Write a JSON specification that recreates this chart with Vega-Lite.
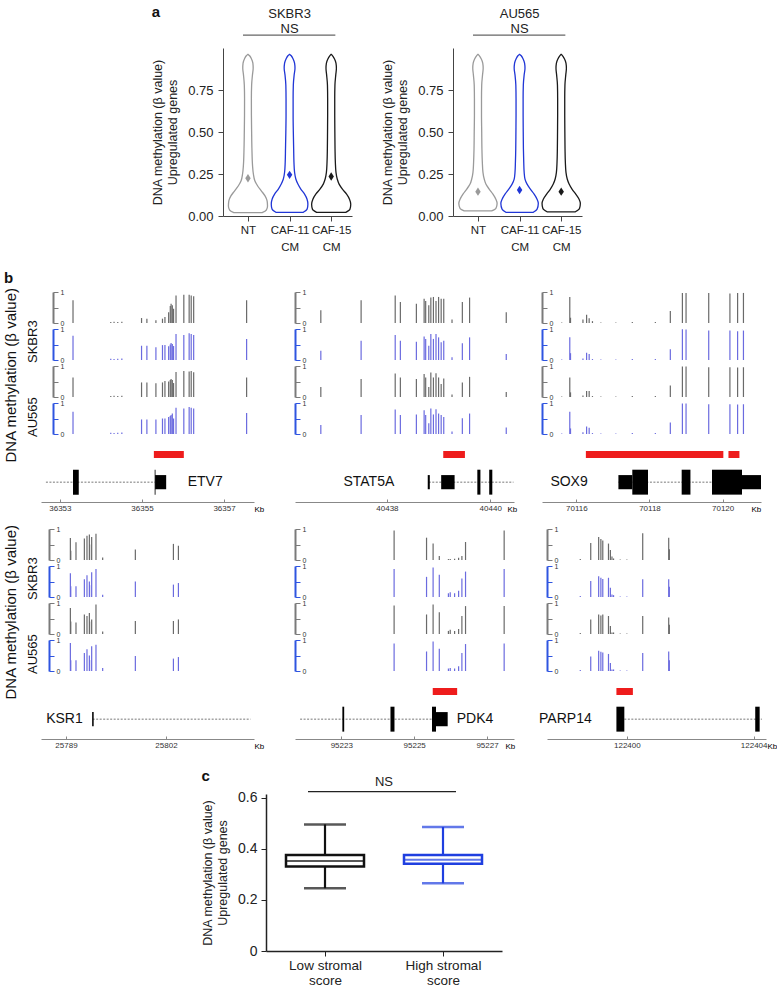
{
"$schema":"https://vega.github.io/schema/vega-lite/v6.json",
"padding":{"left":3,"top":5,"right":0,"bottom":0},
"config":{"view":{"stroke":null},"font":"Liberation Sans","axis":{"labelFont":"Liberation Sans","titleFont":"Liberation Sans"},"title":{"font":"Liberation Sans","color":"#111111"}},
"datasets":{
"violin":[
{"c":"SKBR3","g":"NT","y":0.02,"w":0.34},{"c":"SKBR3","g":"NT","y":0.035,"w":0.44},{"c":"SKBR3","g":"NT","y":0.06,"w":0.47},{"c":"SKBR3","g":"NT","y":0.09,"w":0.46},{"c":"SKBR3","g":"NT","y":0.12,"w":0.41},{"c":"SKBR3","g":"NT","y":0.15,"w":0.32},{"c":"SKBR3","g":"NT","y":0.18,"w":0.23},{"c":"SKBR3","g":"NT","y":0.21,"w":0.165},{"c":"SKBR3","g":"NT","y":0.25,"w":0.13},{"c":"SKBR3","g":"NT","y":0.3,"w":0.11},{"c":"SKBR3","g":"NT","y":0.4,"w":0.095},{"c":"SKBR3","g":"NT","y":0.5,"w":0.088},{"c":"SKBR3","g":"NT","y":0.6,"w":0.083},{"c":"SKBR3","g":"NT","y":0.7,"w":0.082},{"c":"SKBR3","g":"NT","y":0.78,"w":0.088},{"c":"SKBR3","g":"NT","y":0.84,"w":0.108},{"c":"SKBR3","g":"NT","y":0.88,"w":0.125},{"c":"SKBR3","g":"NT","y":0.91,"w":0.118},{"c":"SKBR3","g":"NT","y":0.935,"w":0.085},{"c":"SKBR3","g":"NT","y":0.955,"w":0.035},{"c":"SKBR3","g":"NT","y":0.962,"w":0.005},
{"c":"SKBR3","g":"CAF-11 CM","y":0.022,"w":0.33},{"c":"SKBR3","g":"CAF-11 CM","y":0.04,"w":0.42},{"c":"SKBR3","g":"CAF-11 CM","y":0.07,"w":0.44},{"c":"SKBR3","g":"CAF-11 CM","y":0.1,"w":0.42},{"c":"SKBR3","g":"CAF-11 CM","y":0.13,"w":0.36},{"c":"SKBR3","g":"CAF-11 CM","y":0.16,"w":0.27},{"c":"SKBR3","g":"CAF-11 CM","y":0.19,"w":0.2},{"c":"SKBR3","g":"CAF-11 CM","y":0.22,"w":0.15},{"c":"SKBR3","g":"CAF-11 CM","y":0.26,"w":0.12},{"c":"SKBR3","g":"CAF-11 CM","y":0.32,"w":0.105},{"c":"SKBR3","g":"CAF-11 CM","y":0.4,"w":0.098},{"c":"SKBR3","g":"CAF-11 CM","y":0.5,"w":0.09},{"c":"SKBR3","g":"CAF-11 CM","y":0.6,"w":0.085},{"c":"SKBR3","g":"CAF-11 CM","y":0.7,"w":0.085},{"c":"SKBR3","g":"CAF-11 CM","y":0.78,"w":0.09},{"c":"SKBR3","g":"CAF-11 CM","y":0.84,"w":0.11},{"c":"SKBR3","g":"CAF-11 CM","y":0.88,"w":0.13},{"c":"SKBR3","g":"CAF-11 CM","y":0.91,"w":0.12},{"c":"SKBR3","g":"CAF-11 CM","y":0.935,"w":0.085},{"c":"SKBR3","g":"CAF-11 CM","y":0.955,"w":0.035},{"c":"SKBR3","g":"CAF-11 CM","y":0.962,"w":0.005},
{"c":"SKBR3","g":"CAF-15 CM","y":0.022,"w":0.35},{"c":"SKBR3","g":"CAF-15 CM","y":0.04,"w":0.45},{"c":"SKBR3","g":"CAF-15 CM","y":0.07,"w":0.47},{"c":"SKBR3","g":"CAF-15 CM","y":0.1,"w":0.44},{"c":"SKBR3","g":"CAF-15 CM","y":0.13,"w":0.37},{"c":"SKBR3","g":"CAF-15 CM","y":0.16,"w":0.27},{"c":"SKBR3","g":"CAF-15 CM","y":0.19,"w":0.19},{"c":"SKBR3","g":"CAF-15 CM","y":0.22,"w":0.145},{"c":"SKBR3","g":"CAF-15 CM","y":0.26,"w":0.115},{"c":"SKBR3","g":"CAF-15 CM","y":0.32,"w":0.1},{"c":"SKBR3","g":"CAF-15 CM","y":0.4,"w":0.092},{"c":"SKBR3","g":"CAF-15 CM","y":0.5,"w":0.088},{"c":"SKBR3","g":"CAF-15 CM","y":0.6,"w":0.085},{"c":"SKBR3","g":"CAF-15 CM","y":0.7,"w":0.085},{"c":"SKBR3","g":"CAF-15 CM","y":0.78,"w":0.09},{"c":"SKBR3","g":"CAF-15 CM","y":0.84,"w":0.11},{"c":"SKBR3","g":"CAF-15 CM","y":0.88,"w":0.125},{"c":"SKBR3","g":"CAF-15 CM","y":0.91,"w":0.115},{"c":"SKBR3","g":"CAF-15 CM","y":0.935,"w":0.08},{"c":"SKBR3","g":"CAF-15 CM","y":0.955,"w":0.03},{"c":"SKBR3","g":"CAF-15 CM","y":0.962,"w":0.005},
{"c":"AU565","g":"NT","y":0.03,"w":0.33},{"c":"AU565","g":"NT","y":0.045,"w":0.43},{"c":"AU565","g":"NT","y":0.075,"w":0.46},{"c":"AU565","g":"NT","y":0.1,"w":0.43},{"c":"AU565","g":"NT","y":0.13,"w":0.36},{"c":"AU565","g":"NT","y":0.16,"w":0.27},{"c":"AU565","g":"NT","y":0.19,"w":0.19},{"c":"AU565","g":"NT","y":0.22,"w":0.15},{"c":"AU565","g":"NT","y":0.26,"w":0.12},{"c":"AU565","g":"NT","y":0.32,"w":0.105},{"c":"AU565","g":"NT","y":0.4,"w":0.095},{"c":"AU565","g":"NT","y":0.5,"w":0.09},{"c":"AU565","g":"NT","y":0.6,"w":0.085},{"c":"AU565","g":"NT","y":0.7,"w":0.085},{"c":"AU565","g":"NT","y":0.78,"w":0.09},{"c":"AU565","g":"NT","y":0.84,"w":0.11},{"c":"AU565","g":"NT","y":0.88,"w":0.125},{"c":"AU565","g":"NT","y":0.91,"w":0.115},{"c":"AU565","g":"NT","y":0.935,"w":0.08},{"c":"AU565","g":"NT","y":0.955,"w":0.03},{"c":"AU565","g":"NT","y":0.962,"w":0.005},
{"c":"AU565","g":"CAF-11 CM","y":0.022,"w":0.33},{"c":"AU565","g":"CAF-11 CM","y":0.04,"w":0.42},{"c":"AU565","g":"CAF-11 CM","y":0.075,"w":0.45},{"c":"AU565","g":"CAF-11 CM","y":0.1,"w":0.42},{"c":"AU565","g":"CAF-11 CM","y":0.13,"w":0.35},{"c":"AU565","g":"CAF-11 CM","y":0.16,"w":0.26},{"c":"AU565","g":"CAF-11 CM","y":0.19,"w":0.18},{"c":"AU565","g":"CAF-11 CM","y":0.22,"w":0.13},{"c":"AU565","g":"CAF-11 CM","y":0.26,"w":0.11},{"c":"AU565","g":"CAF-11 CM","y":0.32,"w":0.1},{"c":"AU565","g":"CAF-11 CM","y":0.4,"w":0.092},{"c":"AU565","g":"CAF-11 CM","y":0.5,"w":0.088},{"c":"AU565","g":"CAF-11 CM","y":0.6,"w":0.085},{"c":"AU565","g":"CAF-11 CM","y":0.7,"w":0.085},{"c":"AU565","g":"CAF-11 CM","y":0.78,"w":0.09},{"c":"AU565","g":"CAF-11 CM","y":0.84,"w":0.11},{"c":"AU565","g":"CAF-11 CM","y":0.88,"w":0.13},{"c":"AU565","g":"CAF-11 CM","y":0.91,"w":0.12},{"c":"AU565","g":"CAF-11 CM","y":0.935,"w":0.085},{"c":"AU565","g":"CAF-11 CM","y":0.955,"w":0.035},{"c":"AU565","g":"CAF-11 CM","y":0.962,"w":0.005},
{"c":"AU565","g":"CAF-15 CM","y":0.025,"w":0.34},{"c":"AU565","g":"CAF-15 CM","y":0.045,"w":0.44},{"c":"AU565","g":"CAF-15 CM","y":0.075,"w":0.46},{"c":"AU565","g":"CAF-15 CM","y":0.1,"w":0.43},{"c":"AU565","g":"CAF-15 CM","y":0.13,"w":0.35},{"c":"AU565","g":"CAF-15 CM","y":0.16,"w":0.26},{"c":"AU565","g":"CAF-15 CM","y":0.19,"w":0.19},{"c":"AU565","g":"CAF-15 CM","y":0.22,"w":0.145},{"c":"AU565","g":"CAF-15 CM","y":0.26,"w":0.115},{"c":"AU565","g":"CAF-15 CM","y":0.32,"w":0.1},{"c":"AU565","g":"CAF-15 CM","y":0.4,"w":0.092},{"c":"AU565","g":"CAF-15 CM","y":0.5,"w":0.088},{"c":"AU565","g":"CAF-15 CM","y":0.6,"w":0.085},{"c":"AU565","g":"CAF-15 CM","y":0.7,"w":0.085},{"c":"AU565","g":"CAF-15 CM","y":0.78,"w":0.09},{"c":"AU565","g":"CAF-15 CM","y":0.84,"w":0.11},{"c":"AU565","g":"CAF-15 CM","y":0.88,"w":0.125},{"c":"AU565","g":"CAF-15 CM","y":0.91,"w":0.115},{"c":"AU565","g":"CAF-15 CM","y":0.935,"w":0.08},{"c":"AU565","g":"CAF-15 CM","y":0.955,"w":0.03},{"c":"AU565","g":"CAF-15 CM","y":0.962,"w":0.005}
],
"means":[{"c":"SKBR3","g":"NT","m":0.225},{"c":"SKBR3","g":"CAF-11 CM","m":0.245},{"c":"SKBR3","g":"CAF-15 CM","m":0.235},{"c":"AU565","g":"NT","m":0.145},{"c":"AU565","g":"CAF-11 CM","m":0.155},{"c":"AU565","g":"CAF-15 CM","m":0.145}],
"box":[{"grp":"Low stromal score","min":0.246,"q1":0.331,"med":0.353,"q3":0.376,"max":0.496},{"grp":"High stromal score","min":0.265,"q1":0.342,"med":0.357,"q3":0.376,"max":0.486}],
"etv7":[{"kb":36353.32,"s1":0.73,"s2":0.78,"a1":0.63,"a2":0.72},{"kb":36354.24,"s1":0.03,"s2":0.04,"a1":0.03,"a2":0.04},{"kb":36354.32,"s1":0.04,"s2":0.03,"a1":0.04,"a2":0.03},{"kb":36354.41,"s1":0.03,"s2":0.04,"a1":0.03,"a2":0.04},{"kb":36354.51,"s1":0.04,"s2":0.05,"a1":0.04,"a2":0.05},{"kb":36354.99,"s1":0.16,"s2":0.46,"a1":0.47,"a2":0.47},{"kb":36355.12,"s1":0.14,"s2":0.46,"a1":0.47,"a2":0.47},{"kb":36355.34,"s1":0.09,"s2":0.41,"a1":0.44,"a2":0.47},{"kb":36355.5,"s1":0.14,"s2":0.48,"a1":0.47,"a2":0.5},{"kb":36355.56,"s1":0.19,"s2":0.48,"a1":0.52,"a2":0.5},{"kb":36355.65,"s1":0.35,"s2":0.44,"a1":0.5,"a2":0.55},{"kb":36355.69,"s1":0.55,"s2":0.5,"a1":0.55,"a2":0.58},{"kb":36355.71,"s1":0.62,"s2":0.55,"a1":0.58,"a2":0.61},{"kb":36355.74,"s1":0.57,"s2":0.52,"a1":0.55,"a2":0.66},{"kb":36355.77,"s1":0.46,"s2":0.45,"a1":0.45,"a2":0.5},{"kb":36355.83,"s1":0.89,"s2":0.84,"a1":0.81,"a2":0.85},{"kb":36356.02,"s1":0.91,"s2":0.81,"a1":0.84,"a2":0.82},{"kb":36356.15,"s1":0.91,"s2":0.86,"a1":0.82,"a2":0.87},{"kb":36356.2,"s1":0.89,"s2":0.84,"a1":0.84,"a2":0.85},{"kb":36356.26,"s1":0.86,"s2":0.81,"a1":0.8,"a2":0.82},{"kb":36357.55,"s1":0.73,"s2":0.68,"a1":0.63,"a2":0.68}],
"stat5a":[{"kb":40436.72,"s1":0.41,"s2":0.3,"a1":0.32,"a2":0.29},{"kb":40437.5,"s1":0.73,"s2":0.62,"a1":0.58,"a2":0.61},{"kb":40438.16,"s1":0.89,"s2":0.81,"a1":0.76,"a2":0.79},{"kb":40438.26,"s1":0.68,"s2":0.62,"a1":0.63,"a2":0.61},{"kb":40438.57,"s1":0.62,"s2":0.59,"a1":0.58,"a2":0.63},{"kb":40438.72,"s1":0.78,"s2":0.76,"a1":0.74,"a2":0.77},{"kb":40438.75,"s1":0.71,"s2":0.68,"a1":0.63,"a2":0.61},{"kb":40438.81,"s1":0.57,"s2":0.46,"a1":0.32,"a2":0.35},{"kb":40438.85,"s1":0.82,"s2":0.84,"a1":0.79,"a2":0.82},{"kb":40438.9,"s1":0.84,"s2":0.68,"a1":0.63,"a2":0.63},{"kb":40438.95,"s1":0.71,"s2":0.84,"a1":0.77,"a2":0.8},{"kb":40439.0,"s1":0.84,"s2":0.73,"a1":0.63,"a2":0.66},{"kb":40439.05,"s1":0.78,"s2":0.57,"a1":0.42,"a2":0.61},{"kb":40439.1,"s1":0.78,"s2":0.62,"a1":0.6,"a2":0.55},{"kb":40439.26,"s1":0.11,"s2":0.09,"a1":0.08,"a2":0.08},{"kb":40439.46,"s1":0.68,"s2":0.54,"a1":0.47,"a2":0.51},{"kb":40439.6,"s1":0.82,"s2":0.73,"a1":0.65,"a2":0.66},{"kb":40440.31,"s1":0.35,"s2":0.19,"a1":0.16,"a2":0.21}],
"sox9":[{"kb":70115.6,"s1":0.02,"s2":0.02,"a1":0.02,"a2":0.02},{"kb":70115.82,"s1":0.84,"s2":0.73,"a1":0.63,"a2":0.72},{"kb":70115.84,"s1":0.17,"s2":0.22,"a1":0.15,"a2":0.18},{"kb":70116.18,"s1":0.11,"s2":0.05,"a1":0.05,"a2":0.06},{"kb":70116.28,"s1":0.27,"s2":0.23,"a1":0.19,"a2":0.24},{"kb":70116.35,"s1":0.15,"s2":0.19,"a1":0.19,"a2":0.2},{"kb":70116.44,"s1":0.06,"s2":0.03,"a1":0.03,"a2":0.03},{"kb":70116.67,"s1":0.02,"s2":0.02,"a1":0.02,"a2":0.02},{"kb":70117.08,"s1":0.02,"s2":0.02,"a1":0.02,"a2":0.02},{"kb":70117.53,"s1":0.03,"s2":0.03,"a1":0.03,"a2":0.03},{"kb":70118.16,"s1":0.03,"s2":0.03,"a1":0.03,"a2":0.03},{"kb":70118.57,"s1":0.39,"s2":0.35,"a1":0.37,"a2":0.37},{"kb":70118.9,"s1":0.97,"s2":0.99,"a1":0.98,"a2":0.98},{"kb":70119.0,"s1":0.97,"s2":0.98,"a1":0.98,"a2":0.98},{"kb":70119.62,"s1":0.97,"s2":0.95,"a1":0.96,"a2":0.96},{"kb":70120.2,"s1":0.95,"s2":0.95,"a1":0.96,"a2":0.96},{"kb":70120.41,"s1":0.97,"s2":0.93,"a1":0.95,"a2":0.95},{"kb":70120.57,"s1":0.97,"s2":0.95,"a1":0.96,"a2":0.96}],
"ksr1":[{"kb":25789.57,"s1":0.71,"s2":0.77,"a1":0.84,"a2":0.9},{"kb":25789.62,"s1":0.3,"s2":0.35,"a1":0.4,"a2":0.35},{"kb":25790.3,"s1":0.57,"s2":0.35,"a1":0.37,"a2":0.35},{"kb":25791.39,"s1":0.69,"s2":0.57,"a1":0.63,"a2":0.58},{"kb":25791.73,"s1":0.78,"s2":0.7,"a1":0.58,"a2":0.7},{"kb":25792.04,"s1":0.82,"s2":0.5,"a1":0.68,"a2":0.5},{"kb":25792.07,"s1":0.5,"s2":0.38,"a1":0.4,"a2":0.35},{"kb":25792.34,"s1":0.74,"s2":0.8,"a1":0.47,"a2":0.8},{"kb":25792.9,"s1":0.85,"s2":0.9,"a1":0.95,"a2":0.85},{"kb":25793.77,"s1":0.08,"s2":0.07,"a1":0.08,"a2":0.1},{"kb":25798.02,"s1":0.34,"s2":0.5,"a1":0.42,"a2":0.48},{"kb":25802.97,"s1":0.52,"s2":0.4,"a1":0.42,"a2":0.4},{"kb":25803.62,"s1":0.46,"s2":0.45,"a1":0.47,"a2":0.45}],
"pdk4":[{"kb":95224.45,"s1":0.95,"s2":0.9,"a1":0.92,"a2":0.89},{"kb":95225.34,"s1":0.72,"s2":0.65,"a1":0.63,"a2":0.63},{"kb":95225.52,"s1":0.53,"s2":0.95,"a1":0.95,"a2":0.95},{"kb":95225.69,"s1":0.13,"s2":0.72,"a1":0.7,"a2":0.72},{"kb":95225.94,"s1":0.03,"s2":0.12,"a1":0.1,"a2":0.08},{"kb":95225.99,"s1":0.03,"s2":0.15,"a1":0.14,"a2":0.1},{"kb":95226.11,"s1":0.04,"s2":0.12,"a1":0.1,"a2":0.08},{"kb":95226.22,"s1":0.07,"s2":0.2,"a1":0.16,"a2":0.15},{"kb":95226.31,"s1":0.13,"s2":0.6,"a1":0.58,"a2":0.58},{"kb":95226.41,"s1":0.58,"s2":0.82,"a1":0.9,"a2":0.87},{"kb":95227.47,"s1":0.95,"s2":0.9,"a1":0.9,"a2":0.89}],
"parp14":[{"kb":122398.53,"s1":0.03,"s2":0.03,"a1":0.03,"a2":0.03},{"kb":122398.86,"s1":0.55,"s2":0.52,"a1":0.47,"a2":0.47},{"kb":122399.11,"s1":0.74,"s2":0.67,"a1":0.63,"a2":0.65},{"kb":122399.18,"s1":0.68,"s2":0.62,"a1":0.6,"a2":0.62},{"kb":122399.24,"s1":0.63,"s2":0.58,"a1":0.63,"a2":0.6},{"kb":122399.42,"s1":0.53,"s2":0.62,"a1":0.58,"a2":0.55},{"kb":122399.48,"s1":0.32,"s2":0.3,"a1":0.26,"a2":0.26},{"kb":122399.53,"s1":0.11,"s2":0.08,"a1":0.05,"a2":0.05},{"kb":122399.58,"s1":0.05,"s2":0.06,"a1":0.05,"a2":0.05},{"kb":122399.79,"s1":0.02,"s2":0.02,"a1":0.02,"a2":0.02},{"kb":122400.0,"s1":0.02,"s2":0.02,"a1":0.02,"a2":0.02},{"kb":122400.5,"s1":0.86,"s2":0.57,"a1":0.58,"a2":0.58},{"kb":122401.32,"s1":0.72,"s2":0.57,"a1":0.53,"a2":0.63},{"kb":122401.34,"s1":0.35,"s2":0.33,"a1":0.3,"a2":0.35}],
"exons":[{"gene":"ETV7","s":36353.32,"e":36353.46,"t":"CDS"},{"gene":"ETV7","s":36355.31,"e":36355.33,"t":"CDS"},{"gene":"ETV7","s":36355.32,"e":36355.59,"t":"UTR"},
{"gene":"STAT5A","s":40438.79,"e":40438.83,"t":"UTR"},{"gene":"STAT5A","s":40439.05,"e":40439.31,"t":"UTR"},{"gene":"STAT5A","s":40439.75,"e":40439.81,"t":"CDS"},{"gene":"STAT5A","s":40439.98,"e":40440.04,"t":"CDS"},
{"gene":"SOX9","s":70117.15,"e":70117.53,"t":"UTR"},{"gene":"SOX9","s":70117.53,"e":70117.96,"t":"CDS"},{"gene":"SOX9","s":70118.88,"e":70119.12,"t":"CDS"},{"gene":"SOX9","s":70119.71,"e":70120.53,"t":"CDS"},{"gene":"SOX9","s":70120.53,"e":70121.05,"t":"UTR"},
{"gene":"KSR1","s":25792.4,"e":25792.6,"t":"UTR"},
{"gene":"PDK4","s":95223.03,"e":95223.08,"t":"CDS"},{"gene":"PDK4","s":95224.35,"e":95224.46,"t":"CDS"},{"gene":"PDK4","s":95225.49,"e":95225.6,"t":"CDS"},{"gene":"PDK4","s":95225.6,"e":95225.92,"t":"UTR"},
{"gene":"PARP14","s":122399.67,"e":122399.92,"t":"CDS"},{"gene":"PARP14","s":122404.05,"e":122404.19,"t":"CDS"}],
"introns":[{"gene":"ETV7","s":36352.66,"e":36355.32},{"gene":"STAT5A","s":40438.81,"e":40440.45},{"gene":"SOX9","s":70117.15,"e":70121.05},{"gene":"KSR1","s":25792.47,"e":25813.0},{"gene":"PDK4","s":95221.87,"e":95225.5},{"gene":"PARP14","s":122399.92,"e":122404.26}],
"glabels":[{"gene":"ETV7","kb":36356.54},{"gene":"STAT5A","kb":40437.65},{"gene":"SOX9","kb":70115.8},{"gene":"KSR1","kb":25788.8},{"gene":"PDK4","kb":95226.67},{"gene":"PARP14","kb":122398.06}],
"dmr":[{"gene":"ETV7","s":36355.29,"e":36356.02},{"gene":"STAT5A","s":40439.09,"e":40439.51},{"gene":"SOX9","s":70116.26,"e":70120.02},{"gene":"SOX9","s":70120.16,"e":70120.46},{"gene":"PDK4","s":95225.51,"e":95226.18},{"gene":"PARP14","s":122399.67,"e":122400.19}]
},
"spacing":18,
"vconcat":[
{"hconcat":[
 {"width":83,"height":10,"data":{"values":[]},"mark":"point","encoding":{}},
 {"width":129,"height":168,
  "title":{"text":"a","anchor":"start","fontSize":15,"fontWeight":"bold","offset":-12},
  "layer":[
   {"data":{"name":"violin"},"transform":[{"filter":"datum.c=='SKBR3'"},{"calculate":"indexof(['NT','CAF-11 CM','CAF-15 CM'],datum.g)+1","as":"xi"},{"calculate":"datum.xi+datum.w","as":"xr"},{"calculate":"datum.xi-datum.w","as":"xl"}],
    "mark":{"type":"area","orient":"horizontal","fill":"white","strokeWidth":1.3,"interpolate":"monotone"},
    "encoding":{
     "y":{"field":"y","type":"quantitative","scale":{"domain":[0,1],"nice":false},"axis":{"values":[0,0.25,0.5,0.75],"format":".2f","title":["DNA methylation (β value)","Upregulated genes"],"titleFontSize":12.5,"titleFontWeight":"normal","titleColor":"#222222","titleLineHeight":15,"titlePadding":8,"labelFontSize":13,"labelColor":"#222222","grid":false,"domainColor":"#444444","tickColor":"#444444","tickSize":5,"labelPadding":5}},
     "x":{"field":"xr","type":"quantitative","scale":{"domain":[0.4,3.5],"nice":false,"zero":false},"axis":{"values":[1,2,3],"labelExpr":"datum.value==1?'NT':datum.value==2?['CAF-11','CM']:['CAF-15','CM']","title":null,"grid":false,"labelFontSize":11.5,"labelColor":"#222222","domainColor":"#444444","tickColor":"#444444","tickSize":5,"labelPadding":3,"labelLineHeight":17,"labelFlush":false,"labelOverlap":false}},
     "x2":{"field":"xl"},
     "stroke":{"field":"g","type":"nominal","scale":{"domain":["NT","CAF-11 CM","CAF-15 CM"],"range":["#9a9a9a","#2036d6","#1a1a1a"]},"legend":null}}},
   {"data":{"name":"means"},"transform":[{"filter":"datum.c=='SKBR3'"},{"calculate":"indexof(['NT','CAF-11 CM','CAF-15 CM'],datum.g)+1","as":"xi"}],
    "mark":{"type":"point","shape":"M0,-1L0.65,0L0,1L-0.65,0Z","filled":true,"size":70,"opacity":1},
    "encoding":{"x":{"field":"xi","type":"quantitative"},"y":{"field":"m","type":"quantitative"},"fill":{"field":"g","type":"nominal","scale":{"domain":["NT","CAF-11 CM","CAF-15 CM"],"range":["#9a9a9a","#2036d6","#1a1a1a"]},"legend":null}}},
   {"data":{"values":[{}]},"mark":{"type":"rule","color":"#666666","strokeWidth":1.2},"encoding":{"x":{"datum":0.88},"x2":{"datum":3.1},"y":{"datum":1.077}}},
   {"data":{"values":[{"t":"NS"}]},"mark":{"type":"text","fontSize":13,"baseline":"middle","color":"#222222"},"encoding":{"x":{"datum":2},"y":{"datum":1.115},"text":{"field":"t"}}},
   {"data":{"values":[{"t":"SKBR3"}]},"mark":{"type":"text","fontSize":13,"baseline":"middle","color":"#222222"},"encoding":{"x":{"datum":2},"y":{"datum":1.2},"text":{"field":"t"}}}
  ]},
 {"width":129,"height":168,
  "layer":[
   {"data":{"name":"violin"},"transform":[{"filter":"datum.c=='AU565'"},{"calculate":"indexof(['NT','CAF-11 CM','CAF-15 CM'],datum.g)+1","as":"xi"},{"calculate":"datum.xi+datum.w","as":"xr"},{"calculate":"datum.xi-datum.w","as":"xl"}],
    "mark":{"type":"area","orient":"horizontal","fill":"white","strokeWidth":1.3,"interpolate":"monotone"},
    "encoding":{
     "y":{"field":"y","type":"quantitative","scale":{"domain":[0,1],"nice":false},"axis":{"values":[0,0.25,0.5,0.75],"format":".2f","title":["DNA methylation (β value)","Upregulated genes"],"titleFontSize":12.5,"titleFontWeight":"normal","titleColor":"#222222","titleLineHeight":15,"titlePadding":8,"labelFontSize":13,"labelColor":"#222222","grid":false,"domainColor":"#444444","tickColor":"#444444","tickSize":5,"labelPadding":5}},
     "x":{"field":"xr","type":"quantitative","scale":{"domain":[0.4,3.5],"nice":false,"zero":false},"axis":{"values":[1,2,3],"labelExpr":"datum.value==1?'NT':datum.value==2?['CAF-11','CM']:['CAF-15','CM']","title":null,"grid":false,"labelFontSize":11.5,"labelColor":"#222222","domainColor":"#444444","tickColor":"#444444","tickSize":5,"labelPadding":3,"labelLineHeight":17,"labelFlush":false,"labelOverlap":false}},
     "x2":{"field":"xl"},
     "stroke":{"field":"g","type":"nominal","scale":{"domain":["NT","CAF-11 CM","CAF-15 CM"],"range":["#9a9a9a","#2036d6","#1a1a1a"]},"legend":null}}},
   {"data":{"name":"means"},"transform":[{"filter":"datum.c=='AU565'"},{"calculate":"indexof(['NT','CAF-11 CM','CAF-15 CM'],datum.g)+1","as":"xi"}],
    "mark":{"type":"point","shape":"M0,-1L0.65,0L0,1L-0.65,0Z","filled":true,"size":70,"opacity":1},
    "encoding":{"x":{"field":"xi","type":"quantitative"},"y":{"field":"m","type":"quantitative"},"fill":{"field":"g","type":"nominal","scale":{"domain":["NT","CAF-11 CM","CAF-15 CM"],"range":["#9a9a9a","#2036d6","#1a1a1a"]},"legend":null}}},
   {"data":{"values":[{}]},"mark":{"type":"rule","color":"#666666","strokeWidth":1.2},"encoding":{"x":{"datum":0.88},"x2":{"datum":3.1},"y":{"datum":1.077}}},
   {"data":{"values":[{"t":"NS"}]},"mark":{"type":"text","fontSize":13,"baseline":"middle","color":"#222222"},"encoding":{"x":{"datum":2},"y":{"datum":1.115},"text":{"field":"t"}}},
   {"data":{"values":[{"t":"AU565"}]},"mark":{"type":"text","fontSize":13,"baseline":"middle","color":"#222222"},"encoding":{"x":{"datum":2},"y":{"datum":1.2},"text":{"field":"t"}}}
  ]}
],"spacing":27},
{"spacing":19,"vconcat":[
{"title":{"text":"b","anchor":"start","fontSize":15,"fontWeight":"bold","offset":2},"spacing":12,"vconcat":[
 {"spacing":30,"hconcat":[
  {"spacing":14,"title":{"text":"DNA methylation (β value)","orient":"left","anchor":"end","fontSize":15,"fontWeight":"normal","offset":8},"vconcat":[
   {"spacing":-1,"vconcat":[
    {"spacing":-1,"title":{"text":"SKBR3","orient":"left","fontSize":13,"fontWeight":"normal","offset":1},"vconcat":[
     {"width":213,"height":31,"data":{"name":"etv7"},"mark":{"type":"rule","color":"#6a6a6a","strokeWidth":1.2},"encoding":{"x":{"field":"kb","type":"quantitative","scale":{"domain":[36352.54,36357.73],"nice":false,"zero":false},"axis":null},"y":{"field":"s1","type":"quantitative","scale":{"domain":[0,1],"nice":false},"axis":{"values":[0,0.5,1],"labelExpr":"datum.value==0.5?'':format(datum.value,'d')","title":null,"grid":false,"offset":-12,"domainColor":"#7a7a7a","domainWidth":2,"tickColor":"#7a7a7a","tickSize":-5,"labelAlign":"left","labelPadding":-2,"labelFontSize":7,"labelColor":"#333333","labelFlush":false,"labelOverlap":false}},"y2":{"datum":0}}},
     {"width":213,"height":31,"data":{"name":"etv7"},"mark":{"type":"rule","color":"#6b6bdf","strokeWidth":1.2},"encoding":{"x":{"field":"kb","type":"quantitative","scale":{"domain":[36352.54,36357.73],"nice":false,"zero":false},"axis":null},"y":{"field":"s2","type":"quantitative","scale":{"domain":[0,1],"nice":false},"axis":{"values":[0,0.5,1],"labelExpr":"datum.value==0.5?'':format(datum.value,'d')","title":null,"grid":false,"offset":-12,"domainColor":"#2f55e0","domainWidth":2,"tickColor":"#2f55e0","tickSize":-5,"labelAlign":"left","labelPadding":-2,"labelFontSize":7,"labelColor":"#333333","labelFlush":false,"labelOverlap":false}},"y2":{"datum":0}}}
    ]},
    {"spacing":-1,"title":{"text":"AU565","orient":"left","fontSize":13,"fontWeight":"normal","offset":1},"vconcat":[
     {"width":213,"height":31,"data":{"name":"etv7"},"mark":{"type":"rule","color":"#6a6a6a","strokeWidth":1.2},"encoding":{"x":{"field":"kb","type":"quantitative","scale":{"domain":[36352.54,36357.73],"nice":false,"zero":false},"axis":null},"y":{"field":"a1","type":"quantitative","scale":{"domain":[0,1],"nice":false},"axis":{"values":[0,0.5,1],"labelExpr":"datum.value==0.5?'':format(datum.value,'d')","title":null,"grid":false,"offset":-12,"domainColor":"#7a7a7a","domainWidth":2,"tickColor":"#7a7a7a","tickSize":-5,"labelAlign":"left","labelPadding":-2,"labelFontSize":7,"labelColor":"#333333","labelFlush":false,"labelOverlap":false}},"y2":{"datum":0}}},
     {"width":213,"height":31,"data":{"name":"etv7"},"mark":{"type":"rule","color":"#6b6bdf","strokeWidth":1.2},"encoding":{"x":{"field":"kb","type":"quantitative","scale":{"domain":[36352.54,36357.73],"nice":false,"zero":false},"axis":null},"y":{"field":"a2","type":"quantitative","scale":{"domain":[0,1],"nice":false},"axis":{"values":[0,0.5,1],"labelExpr":"datum.value==0.5?'':format(datum.value,'d')","title":null,"grid":false,"offset":-12,"domainColor":"#2f55e0","domainWidth":2,"tickColor":"#2f55e0","tickSize":-5,"labelAlign":"left","labelPadding":-2,"labelFontSize":7,"labelColor":"#333333","labelFlush":false,"labelOverlap":false}},"y2":{"datum":0}}}
    ]}
   ]},
   {"spacing":10,"vconcat":[
    {"width":213,"height":7,"data":{"name":"dmr"},"transform":[{"filter":"datum.gene=='ETV7'"}],"mark":{"type":"rect","color":"#ee1c1c"},"encoding":{"x":{"field":"s","type":"quantitative","scale":{"domain":[36352.54,36357.73],"nice":false,"zero":false},"axis":null},"x2":{"field":"e"}}},
    {"width":213,"height":34,"layer":[
     {"data":{"name":"introns"},"transform":[{"filter":"datum.gene=='ETV7'"}],"mark":{"type":"rule","color":"#555555","strokeWidth":0.8,"strokeDash":[2,1.5]},"encoding":{"x":{"field":"s","type":"quantitative","scale":{"domain":[36352.54,36357.73],"nice":false,"zero":false},"axis":{"values":[36353,36355,36357],"format":"d","title":"Kb","titleX":213,"titleY":3,"titleAlign":"left","titleBaseline":"top","titleFontSize":8,"titleFontWeight":"normal","labelFontSize":8,"labelColor":"#333333","domainColor":"#888888","tickColor":"#888888","tickSize":-3,"labelPadding":5,"grid":false,"labelFlush":false}},"x2":{"field":"e"},"y":{"datum":0,"type":"quantitative","scale":{"domain":[-1.4,1],"nice":false,"zero":false},"axis":null}}},
     {"data":{"name":"exons"},"transform":[{"filter":"datum.gene=='ETV7'"},{"calculate":"datum.t=='CDS'?0.88:0.5","as":"h"},{"calculate":"-datum.h","as":"nh"}],"mark":{"type":"rect","color":"#000000"},"encoding":{"x":{"field":"s","type":"quantitative"},"x2":{"field":"e"},"y":{"field":"h","type":"quantitative"},"y2":{"field":"nh"}}},
     {"data":{"name":"glabels"},"transform":[{"filter":"datum.gene=='ETV7'"}],"mark":{"type":"text","fontSize":14,"color":"#111111"},"encoding":{"x":{"field":"kb","type":"quantitative"},"y":{"datum":0,"type":"quantitative"},"text":{"field":"gene"}}}
    ]}
   ]}
  ]},
  {"spacing":24,"hconcat":[
   {"spacing":14,"vconcat":[
    {"spacing":-1,"vconcat":[
     {"spacing":-1,"vconcat":[
      {"width":219,"height":31,"data":{"name":"stat5a"},"mark":{"type":"rule","color":"#6a6a6a","strokeWidth":1.2},"encoding":{"x":{"field":"kb","type":"quantitative","scale":{"domain":[40436.22,40440.46],"nice":false,"zero":false},"axis":null},"y":{"field":"s1","type":"quantitative","scale":{"domain":[0,1],"nice":false},"axis":{"values":[0,0.5,1],"labelExpr":"datum.value==0.5?'':format(datum.value,'d')","title":null,"grid":false,"offset":0,"domainColor":"#7a7a7a","domainWidth":2,"tickColor":"#7a7a7a","tickSize":-5,"labelAlign":"left","labelPadding":-2,"labelFontSize":7,"labelColor":"#333333","labelFlush":false,"labelOverlap":false}},"y2":{"datum":0}}},
      {"width":219,"height":31,"data":{"name":"stat5a"},"mark":{"type":"rule","color":"#6b6bdf","strokeWidth":1.2},"encoding":{"x":{"field":"kb","type":"quantitative","scale":{"domain":[40436.22,40440.46],"nice":false,"zero":false},"axis":null},"y":{"field":"s2","type":"quantitative","scale":{"domain":[0,1],"nice":false},"axis":{"values":[0,0.5,1],"labelExpr":"datum.value==0.5?'':format(datum.value,'d')","title":null,"grid":false,"offset":0,"domainColor":"#2f55e0","domainWidth":2,"tickColor":"#2f55e0","tickSize":-5,"labelAlign":"left","labelPadding":-2,"labelFontSize":7,"labelColor":"#333333","labelFlush":false,"labelOverlap":false}},"y2":{"datum":0}}}
     ]},
     {"spacing":-1,"vconcat":[
      {"width":219,"height":31,"data":{"name":"stat5a"},"mark":{"type":"rule","color":"#6a6a6a","strokeWidth":1.2},"encoding":{"x":{"field":"kb","type":"quantitative","scale":{"domain":[40436.22,40440.46],"nice":false,"zero":false},"axis":null},"y":{"field":"a1","type":"quantitative","scale":{"domain":[0,1],"nice":false},"axis":{"values":[0,0.5,1],"labelExpr":"datum.value==0.5?'':format(datum.value,'d')","title":null,"grid":false,"offset":0,"domainColor":"#7a7a7a","domainWidth":2,"tickColor":"#7a7a7a","tickSize":-5,"labelAlign":"left","labelPadding":-2,"labelFontSize":7,"labelColor":"#333333","labelFlush":false,"labelOverlap":false}},"y2":{"datum":0}}},
      {"width":219,"height":31,"data":{"name":"stat5a"},"mark":{"type":"rule","color":"#6b6bdf","strokeWidth":1.2},"encoding":{"x":{"field":"kb","type":"quantitative","scale":{"domain":[40436.22,40440.46],"nice":false,"zero":false},"axis":null},"y":{"field":"a2","type":"quantitative","scale":{"domain":[0,1],"nice":false},"axis":{"values":[0,0.5,1],"labelExpr":"datum.value==0.5?'':format(datum.value,'d')","title":null,"grid":false,"offset":0,"domainColor":"#2f55e0","domainWidth":2,"tickColor":"#2f55e0","tickSize":-5,"labelAlign":"left","labelPadding":-2,"labelFontSize":7,"labelColor":"#333333","labelFlush":false,"labelOverlap":false}},"y2":{"datum":0}}}
     ]}
    ]},
    {"spacing":10,"vconcat":[
     {"width":219,"height":7,"data":{"name":"dmr"},"transform":[{"filter":"datum.gene=='STAT5A'"}],"mark":{"type":"rect","color":"#ee1c1c"},"encoding":{"x":{"field":"s","type":"quantitative","scale":{"domain":[40436.22,40440.46],"nice":false,"zero":false},"axis":null},"x2":{"field":"e"}}},
     {"width":219,"height":34,"layer":[
      {"data":{"name":"introns"},"transform":[{"filter":"datum.gene=='STAT5A'"}],"mark":{"type":"rule","color":"#555555","strokeWidth":0.8,"strokeDash":[2,1.5]},"encoding":{"x":{"field":"s","type":"quantitative","scale":{"domain":[40436.22,40440.46],"nice":false,"zero":false},"axis":{"values":[40438,40440],"format":"d","title":"Kb","titleX":212,"titleY":3,"titleAlign":"left","titleBaseline":"top","titleFontSize":8,"titleFontWeight":"normal","labelFontSize":8,"labelColor":"#333333","domainColor":"#888888","tickColor":"#888888","tickSize":-3,"labelPadding":5,"grid":false,"labelFlush":false}},"x2":{"field":"e"},"y":{"datum":0,"type":"quantitative","scale":{"domain":[-1.4,1],"nice":false,"zero":false},"axis":null}}},
      {"data":{"name":"exons"},"transform":[{"filter":"datum.gene=='STAT5A'"},{"calculate":"datum.t=='CDS'?0.88:0.5","as":"h"},{"calculate":"-datum.h","as":"nh"}],"mark":{"type":"rect","color":"#000000"},"encoding":{"x":{"field":"s","type":"quantitative"},"x2":{"field":"e"},"y":{"field":"h","type":"quantitative"},"y2":{"field":"nh"}}},
      {"data":{"name":"glabels"},"transform":[{"filter":"datum.gene=='STAT5A'"}],"mark":{"type":"text","fontSize":14,"color":"#111111"},"encoding":{"x":{"field":"kb","type":"quantitative"},"y":{"datum":0,"type":"quantitative"},"text":{"field":"gene"}}}
     ]}
    ]}
   ]},
   {"spacing":14,"vconcat":[
    {"spacing":-1,"vconcat":[
     {"spacing":-1,"vconcat":[
      {"width":219,"height":31,"data":{"name":"sox9"},"mark":{"type":"rule","color":"#6a6a6a","strokeWidth":1.2},"encoding":{"x":{"field":"kb","type":"quantitative","scale":{"domain":[70115.06,70121.05],"nice":false,"zero":false},"axis":null},"y":{"field":"s1","type":"quantitative","scale":{"domain":[0,1],"nice":false},"axis":{"values":[0,0.5,1],"labelExpr":"datum.value==0.5?'':format(datum.value,'d')","title":null,"grid":false,"offset":0,"domainColor":"#7a7a7a","domainWidth":2,"tickColor":"#7a7a7a","tickSize":-5,"labelAlign":"left","labelPadding":-2,"labelFontSize":7,"labelColor":"#333333","labelFlush":false,"labelOverlap":false}},"y2":{"datum":0}}},
      {"width":219,"height":31,"data":{"name":"sox9"},"mark":{"type":"rule","color":"#6b6bdf","strokeWidth":1.2},"encoding":{"x":{"field":"kb","type":"quantitative","scale":{"domain":[70115.06,70121.05],"nice":false,"zero":false},"axis":null},"y":{"field":"s2","type":"quantitative","scale":{"domain":[0,1],"nice":false},"axis":{"values":[0,0.5,1],"labelExpr":"datum.value==0.5?'':format(datum.value,'d')","title":null,"grid":false,"offset":0,"domainColor":"#2f55e0","domainWidth":2,"tickColor":"#2f55e0","tickSize":-5,"labelAlign":"left","labelPadding":-2,"labelFontSize":7,"labelColor":"#333333","labelFlush":false,"labelOverlap":false}},"y2":{"datum":0}}}
     ]},
     {"spacing":-1,"vconcat":[
      {"width":219,"height":31,"data":{"name":"sox9"},"mark":{"type":"rule","color":"#6a6a6a","strokeWidth":1.2},"encoding":{"x":{"field":"kb","type":"quantitative","scale":{"domain":[70115.06,70121.05],"nice":false,"zero":false},"axis":null},"y":{"field":"a1","type":"quantitative","scale":{"domain":[0,1],"nice":false},"axis":{"values":[0,0.5,1],"labelExpr":"datum.value==0.5?'':format(datum.value,'d')","title":null,"grid":false,"offset":0,"domainColor":"#7a7a7a","domainWidth":2,"tickColor":"#7a7a7a","tickSize":-5,"labelAlign":"left","labelPadding":-2,"labelFontSize":7,"labelColor":"#333333","labelFlush":false,"labelOverlap":false}},"y2":{"datum":0}}},
      {"width":219,"height":31,"data":{"name":"sox9"},"mark":{"type":"rule","color":"#6b6bdf","strokeWidth":1.2},"encoding":{"x":{"field":"kb","type":"quantitative","scale":{"domain":[70115.06,70121.05],"nice":false,"zero":false},"axis":null},"y":{"field":"a2","type":"quantitative","scale":{"domain":[0,1],"nice":false},"axis":{"values":[0,0.5,1],"labelExpr":"datum.value==0.5?'':format(datum.value,'d')","title":null,"grid":false,"offset":0,"domainColor":"#2f55e0","domainWidth":2,"tickColor":"#2f55e0","tickSize":-5,"labelAlign":"left","labelPadding":-2,"labelFontSize":7,"labelColor":"#333333","labelFlush":false,"labelOverlap":false}},"y2":{"datum":0}}}
     ]}
    ]},
    {"spacing":10,"vconcat":[
     {"width":219,"height":7,"data":{"name":"dmr"},"transform":[{"filter":"datum.gene=='SOX9'"}],"mark":{"type":"rect","color":"#ee1c1c"},"encoding":{"x":{"field":"s","type":"quantitative","scale":{"domain":[70115.06,70121.05],"nice":false,"zero":false},"axis":null},"x2":{"field":"e"}}},
     {"width":219,"height":34,"layer":[
      {"data":{"name":"introns"},"transform":[{"filter":"datum.gene=='SOX9'"}],"mark":{"type":"rule","color":"#555555","strokeWidth":0.8,"strokeDash":[2,1.5]},"encoding":{"x":{"field":"s","type":"quantitative","scale":{"domain":[70115.06,70121.05],"nice":false,"zero":false},"axis":{"values":[70116,70118,70120],"format":"d","title":"Kb","titleX":209,"titleY":3,"titleAlign":"left","titleBaseline":"top","titleFontSize":8,"titleFontWeight":"normal","labelFontSize":8,"labelColor":"#333333","domainColor":"#888888","tickColor":"#888888","tickSize":-3,"labelPadding":5,"grid":false,"labelFlush":false}},"x2":{"field":"e"},"y":{"datum":0,"type":"quantitative","scale":{"domain":[-1.4,1],"nice":false,"zero":false},"axis":null}}},
      {"data":{"name":"exons"},"transform":[{"filter":"datum.gene=='SOX9'"},{"calculate":"datum.t=='CDS'?0.88:0.5","as":"h"},{"calculate":"-datum.h","as":"nh"}],"mark":{"type":"rect","color":"#000000"},"encoding":{"x":{"field":"s","type":"quantitative"},"x2":{"field":"e"},"y":{"field":"h","type":"quantitative"},"y2":{"field":"nh"}}},
      {"data":{"name":"glabels"},"transform":[{"filter":"datum.gene=='SOX9'"}],"mark":{"type":"text","fontSize":14,"color":"#111111"},"encoding":{"x":{"field":"kb","type":"quantitative"},"y":{"datum":0,"type":"quantitative"},"text":{"field":"gene"}}}
     ]}
    ]}
   ]}
  ]}
 ]},
 {"spacing":30,"hconcat":[
  {"spacing":14,"title":{"text":"DNA methylation (β value)","orient":"left","anchor":"end","fontSize":15,"fontWeight":"normal","offset":8},"vconcat":[
   {"spacing":-1,"vconcat":[
    {"spacing":-1,"title":{"text":"SKBR3","orient":"left","fontSize":13,"fontWeight":"normal","offset":1},"vconcat":[
     {"width":213,"height":31,"data":{"name":"ksr1"},"mark":{"type":"rule","color":"#6a6a6a","strokeWidth":1.2},"encoding":{"x":{"field":"kb","type":"quantitative","scale":{"domain":[25785.75,25813.45],"nice":false,"zero":false},"axis":null},"y":{"field":"s1","type":"quantitative","scale":{"domain":[0,1],"nice":false},"axis":{"values":[0,0.5,1],"labelExpr":"datum.value==0.5?'':format(datum.value,'d')","title":null,"grid":false,"offset":-8,"domainColor":"#7a7a7a","domainWidth":2,"tickColor":"#7a7a7a","tickSize":-5,"labelAlign":"left","labelPadding":-2,"labelFontSize":7,"labelColor":"#333333","labelFlush":false,"labelOverlap":false}},"y2":{"datum":0}}},
     {"width":213,"height":31,"data":{"name":"ksr1"},"mark":{"type":"rule","color":"#6b6bdf","strokeWidth":1.2},"encoding":{"x":{"field":"kb","type":"quantitative","scale":{"domain":[25785.75,25813.45],"nice":false,"zero":false},"axis":null},"y":{"field":"s2","type":"quantitative","scale":{"domain":[0,1],"nice":false},"axis":{"values":[0,0.5,1],"labelExpr":"datum.value==0.5?'':format(datum.value,'d')","title":null,"grid":false,"offset":-8,"domainColor":"#2f55e0","domainWidth":2,"tickColor":"#2f55e0","tickSize":-5,"labelAlign":"left","labelPadding":-2,"labelFontSize":7,"labelColor":"#333333","labelFlush":false,"labelOverlap":false}},"y2":{"datum":0}}}
    ]},
    {"spacing":-1,"title":{"text":"AU565","orient":"left","fontSize":13,"fontWeight":"normal","offset":1},"vconcat":[
     {"width":213,"height":31,"data":{"name":"ksr1"},"mark":{"type":"rule","color":"#6a6a6a","strokeWidth":1.2},"encoding":{"x":{"field":"kb","type":"quantitative","scale":{"domain":[25785.75,25813.45],"nice":false,"zero":false},"axis":null},"y":{"field":"a1","type":"quantitative","scale":{"domain":[0,1],"nice":false},"axis":{"values":[0,0.5,1],"labelExpr":"datum.value==0.5?'':format(datum.value,'d')","title":null,"grid":false,"offset":-8,"domainColor":"#7a7a7a","domainWidth":2,"tickColor":"#7a7a7a","tickSize":-5,"labelAlign":"left","labelPadding":-2,"labelFontSize":7,"labelColor":"#333333","labelFlush":false,"labelOverlap":false}},"y2":{"datum":0}}},
     {"width":213,"height":31,"data":{"name":"ksr1"},"mark":{"type":"rule","color":"#6b6bdf","strokeWidth":1.2},"encoding":{"x":{"field":"kb","type":"quantitative","scale":{"domain":[25785.75,25813.45],"nice":false,"zero":false},"axis":null},"y":{"field":"a2","type":"quantitative","scale":{"domain":[0,1],"nice":false},"axis":{"values":[0,0.5,1],"labelExpr":"datum.value==0.5?'':format(datum.value,'d')","title":null,"grid":false,"offset":-8,"domainColor":"#2f55e0","domainWidth":2,"tickColor":"#2f55e0","tickSize":-5,"labelAlign":"left","labelPadding":-2,"labelFontSize":7,"labelColor":"#333333","labelFlush":false,"labelOverlap":false}},"y2":{"datum":0}}}
    ]}
   ]},
   {"spacing":10,"vconcat":[
    {"width":213,"height":7,"data":{"name":"dmr"},"transform":[{"filter":"datum.gene=='KSR1'"}],"mark":{"type":"rect","color":"#ee1c1c"},"encoding":{"x":{"field":"s","type":"quantitative","scale":{"domain":[25785.75,25813.45],"nice":false,"zero":false},"axis":null},"x2":{"field":"e"}}},
    {"width":213,"height":34,"layer":[
     {"data":{"name":"introns"},"transform":[{"filter":"datum.gene=='KSR1'"}],"mark":{"type":"rule","color":"#555555","strokeWidth":0.8,"strokeDash":[2,1.5]},"encoding":{"x":{"field":"s","type":"quantitative","scale":{"domain":[25785.75,25813.45],"nice":false,"zero":false},"axis":{"values":[25789,25802],"format":"d","title":"Kb","titleX":213,"titleY":3,"titleAlign":"left","titleBaseline":"top","titleFontSize":8,"titleFontWeight":"normal","labelFontSize":8,"labelColor":"#333333","domainColor":"#888888","tickColor":"#888888","tickSize":-3,"labelPadding":5,"grid":false,"labelFlush":false}},"x2":{"field":"e"},"y":{"datum":0,"type":"quantitative","scale":{"domain":[-1.4,1],"nice":false,"zero":false},"axis":null}}},
     {"data":{"name":"exons"},"transform":[{"filter":"datum.gene=='KSR1'"},{"calculate":"datum.t=='CDS'?0.88:0.5","as":"h"},{"calculate":"-datum.h","as":"nh"}],"mark":{"type":"rect","color":"#000000"},"encoding":{"x":{"field":"s","type":"quantitative"},"x2":{"field":"e"},"y":{"field":"h","type":"quantitative"},"y2":{"field":"nh"}}},
     {"data":{"name":"glabels"},"transform":[{"filter":"datum.gene=='KSR1'"}],"mark":{"type":"text","fontSize":14,"color":"#111111"},"encoding":{"x":{"field":"kb","type":"quantitative"},"y":{"datum":0,"type":"quantitative"},"text":{"field":"gene"}}}
    ]}
   ]}
  ]},
  {"spacing":24,"hconcat":[
   {"spacing":14,"vconcat":[
    {"spacing":-1,"vconcat":[
     {"spacing":-1,"vconcat":[
      {"width":219,"height":31,"data":{"name":"pdk4"},"mark":{"type":"rule","color":"#6a6a6a","strokeWidth":1.2},"encoding":{"x":{"field":"kb","type":"quantitative","scale":{"domain":[95221.73,95227.74],"nice":false,"zero":false},"axis":null},"y":{"field":"s1","type":"quantitative","scale":{"domain":[0,1],"nice":false},"axis":{"values":[0,0.5,1],"labelExpr":"datum.value==0.5?'':format(datum.value,'d')","title":null,"grid":false,"offset":0,"domainColor":"#7a7a7a","domainWidth":2,"tickColor":"#7a7a7a","tickSize":-5,"labelAlign":"left","labelPadding":-2,"labelFontSize":7,"labelColor":"#333333","labelFlush":false,"labelOverlap":false}},"y2":{"datum":0}}},
      {"width":219,"height":31,"data":{"name":"pdk4"},"mark":{"type":"rule","color":"#6b6bdf","strokeWidth":1.2},"encoding":{"x":{"field":"kb","type":"quantitative","scale":{"domain":[95221.73,95227.74],"nice":false,"zero":false},"axis":null},"y":{"field":"s2","type":"quantitative","scale":{"domain":[0,1],"nice":false},"axis":{"values":[0,0.5,1],"labelExpr":"datum.value==0.5?'':format(datum.value,'d')","title":null,"grid":false,"offset":0,"domainColor":"#2f55e0","domainWidth":2,"tickColor":"#2f55e0","tickSize":-5,"labelAlign":"left","labelPadding":-2,"labelFontSize":7,"labelColor":"#333333","labelFlush":false,"labelOverlap":false}},"y2":{"datum":0}}}
     ]},
     {"spacing":-1,"vconcat":[
      {"width":219,"height":31,"data":{"name":"pdk4"},"mark":{"type":"rule","color":"#6a6a6a","strokeWidth":1.2},"encoding":{"x":{"field":"kb","type":"quantitative","scale":{"domain":[95221.73,95227.74],"nice":false,"zero":false},"axis":null},"y":{"field":"a1","type":"quantitative","scale":{"domain":[0,1],"nice":false},"axis":{"values":[0,0.5,1],"labelExpr":"datum.value==0.5?'':format(datum.value,'d')","title":null,"grid":false,"offset":0,"domainColor":"#7a7a7a","domainWidth":2,"tickColor":"#7a7a7a","tickSize":-5,"labelAlign":"left","labelPadding":-2,"labelFontSize":7,"labelColor":"#333333","labelFlush":false,"labelOverlap":false}},"y2":{"datum":0}}},
      {"width":219,"height":31,"data":{"name":"pdk4"},"mark":{"type":"rule","color":"#6b6bdf","strokeWidth":1.2},"encoding":{"x":{"field":"kb","type":"quantitative","scale":{"domain":[95221.73,95227.74],"nice":false,"zero":false},"axis":null},"y":{"field":"a2","type":"quantitative","scale":{"domain":[0,1],"nice":false},"axis":{"values":[0,0.5,1],"labelExpr":"datum.value==0.5?'':format(datum.value,'d')","title":null,"grid":false,"offset":0,"domainColor":"#2f55e0","domainWidth":2,"tickColor":"#2f55e0","tickSize":-5,"labelAlign":"left","labelPadding":-2,"labelFontSize":7,"labelColor":"#333333","labelFlush":false,"labelOverlap":false}},"y2":{"datum":0}}}
     ]}
    ]},
    {"spacing":10,"vconcat":[
     {"width":219,"height":7,"data":{"name":"dmr"},"transform":[{"filter":"datum.gene=='PDK4'"}],"mark":{"type":"rect","color":"#ee1c1c"},"encoding":{"x":{"field":"s","type":"quantitative","scale":{"domain":[95221.73,95227.74],"nice":false,"zero":false},"axis":null},"x2":{"field":"e"}}},
     {"width":219,"height":34,"layer":[
      {"data":{"name":"introns"},"transform":[{"filter":"datum.gene=='PDK4'"}],"mark":{"type":"rule","color":"#555555","strokeWidth":0.8,"strokeDash":[2,1.5]},"encoding":{"x":{"field":"s","type":"quantitative","scale":{"domain":[95221.73,95227.74],"nice":false,"zero":false},"axis":{"values":[95223,95225,95227],"format":"d","title":"Kb","titleX":210,"titleY":3,"titleAlign":"left","titleBaseline":"top","titleFontSize":8,"titleFontWeight":"normal","labelFontSize":8,"labelColor":"#333333","domainColor":"#888888","tickColor":"#888888","tickSize":-3,"labelPadding":5,"grid":false,"labelFlush":false}},"x2":{"field":"e"},"y":{"datum":0,"type":"quantitative","scale":{"domain":[-1.4,1],"nice":false,"zero":false},"axis":null}}},
      {"data":{"name":"exons"},"transform":[{"filter":"datum.gene=='PDK4'"},{"calculate":"datum.t=='CDS'?0.88:0.5","as":"h"},{"calculate":"-datum.h","as":"nh"}],"mark":{"type":"rect","color":"#000000"},"encoding":{"x":{"field":"s","type":"quantitative"},"x2":{"field":"e"},"y":{"field":"h","type":"quantitative"},"y2":{"field":"nh"}}},
      {"data":{"name":"glabels"},"transform":[{"filter":"datum.gene=='PDK4'"}],"mark":{"type":"text","fontSize":14,"color":"#111111"},"encoding":{"x":{"field":"kb","type":"quantitative"},"y":{"datum":0,"type":"quantitative"},"text":{"field":"gene"}}}
     ]}
    ]}
   ]},
   {"spacing":14,"vconcat":[
    {"spacing":-1,"vconcat":[
     {"spacing":-1,"vconcat":[
      {"width":219,"height":31,"data":{"name":"parp14"},"mark":{"type":"rule","color":"#6a6a6a","strokeWidth":1.2},"encoding":{"x":{"field":"kb","type":"quantitative","scale":{"domain":[122397.48,122404.39],"nice":false,"zero":false},"axis":null},"y":{"field":"s1","type":"quantitative","scale":{"domain":[0,1],"nice":false},"axis":{"values":[0,0.5,1],"labelExpr":"datum.value==0.5?'':format(datum.value,'d')","title":null,"grid":false,"offset":0,"domainColor":"#7a7a7a","domainWidth":2,"tickColor":"#7a7a7a","tickSize":-5,"labelAlign":"left","labelPadding":-2,"labelFontSize":7,"labelColor":"#333333","labelFlush":false,"labelOverlap":false}},"y2":{"datum":0}}},
      {"width":219,"height":31,"data":{"name":"parp14"},"mark":{"type":"rule","color":"#6b6bdf","strokeWidth":1.2},"encoding":{"x":{"field":"kb","type":"quantitative","scale":{"domain":[122397.48,122404.39],"nice":false,"zero":false},"axis":null},"y":{"field":"s2","type":"quantitative","scale":{"domain":[0,1],"nice":false},"axis":{"values":[0,0.5,1],"labelExpr":"datum.value==0.5?'':format(datum.value,'d')","title":null,"grid":false,"offset":0,"domainColor":"#2f55e0","domainWidth":2,"tickColor":"#2f55e0","tickSize":-5,"labelAlign":"left","labelPadding":-2,"labelFontSize":7,"labelColor":"#333333","labelFlush":false,"labelOverlap":false}},"y2":{"datum":0}}}
     ]},
     {"spacing":-1,"vconcat":[
      {"width":219,"height":31,"data":{"name":"parp14"},"mark":{"type":"rule","color":"#6a6a6a","strokeWidth":1.2},"encoding":{"x":{"field":"kb","type":"quantitative","scale":{"domain":[122397.48,122404.39],"nice":false,"zero":false},"axis":null},"y":{"field":"a1","type":"quantitative","scale":{"domain":[0,1],"nice":false},"axis":{"values":[0,0.5,1],"labelExpr":"datum.value==0.5?'':format(datum.value,'d')","title":null,"grid":false,"offset":0,"domainColor":"#7a7a7a","domainWidth":2,"tickColor":"#7a7a7a","tickSize":-5,"labelAlign":"left","labelPadding":-2,"labelFontSize":7,"labelColor":"#333333","labelFlush":false,"labelOverlap":false}},"y2":{"datum":0}}},
      {"width":219,"height":31,"data":{"name":"parp14"},"mark":{"type":"rule","color":"#6b6bdf","strokeWidth":1.2},"encoding":{"x":{"field":"kb","type":"quantitative","scale":{"domain":[122397.48,122404.39],"nice":false,"zero":false},"axis":null},"y":{"field":"a2","type":"quantitative","scale":{"domain":[0,1],"nice":false},"axis":{"values":[0,0.5,1],"labelExpr":"datum.value==0.5?'':format(datum.value,'d')","title":null,"grid":false,"offset":0,"domainColor":"#2f55e0","domainWidth":2,"tickColor":"#2f55e0","tickSize":-5,"labelAlign":"left","labelPadding":-2,"labelFontSize":7,"labelColor":"#333333","labelFlush":false,"labelOverlap":false}},"y2":{"datum":0}}}
     ]}
    ]},
    {"spacing":10,"vconcat":[
     {"width":219,"height":7,"data":{"name":"dmr"},"transform":[{"filter":"datum.gene=='PARP14'"}],"mark":{"type":"rect","color":"#ee1c1c"},"encoding":{"x":{"field":"s","type":"quantitative","scale":{"domain":[122397.48,122404.39],"nice":false,"zero":false},"axis":null},"x2":{"field":"e"}}},
     {"width":219,"height":34,"layer":[
      {"data":{"name":"introns"},"transform":[{"filter":"datum.gene=='PARP14'"}],"mark":{"type":"rule","color":"#555555","strokeWidth":0.8,"strokeDash":[2,1.5]},"encoding":{"x":{"field":"s","type":"quantitative","scale":{"domain":[122397.48,122404.39],"nice":false,"zero":false},"axis":{"values":[122400,122404],"format":"d","title":"Kb","titleX":220,"titleY":3,"titleAlign":"left","titleBaseline":"top","titleFontSize":8,"titleFontWeight":"normal","labelFontSize":8,"labelColor":"#333333","domainColor":"#888888","tickColor":"#888888","tickSize":-3,"labelPadding":5,"grid":false,"labelFlush":false}},"x2":{"field":"e"},"y":{"datum":0,"type":"quantitative","scale":{"domain":[-1.4,1],"nice":false,"zero":false},"axis":null}}},
      {"data":{"name":"exons"},"transform":[{"filter":"datum.gene=='PARP14'"},{"calculate":"datum.t=='CDS'?0.88:0.5","as":"h"},{"calculate":"-datum.h","as":"nh"}],"mark":{"type":"rect","color":"#000000"},"encoding":{"x":{"field":"s","type":"quantitative"},"x2":{"field":"e"},"y":{"field":"h","type":"quantitative"},"y2":{"field":"nh"}}},
      {"data":{"name":"glabels"},"transform":[{"filter":"datum.gene=='PARP14'"}],"mark":{"type":"text","fontSize":14,"color":"#111111"},"encoding":{"x":{"field":"kb","type":"quantitative"},"y":{"datum":0,"type":"quantitative"},"text":{"field":"gene"}}}
     ]}
    ]}
   ]}
  ]}
 ]}
]},
{"spacing":30,"hconcat":[
 {"width":130,"height":10,"data":{"values":[]},"mark":"point","encoding":{}},
 {"width":236,"height":157,
  "title":{"text":"c","anchor":"start","fontSize":15,"fontWeight":"bold","offset":-8},
  "layer":[
   {"data":{"name":"box"},"mark":{"type":"rule","strokeWidth":2.2},"encoding":{
     "x":{"field":"grp","type":"nominal","sort":null,"scale":{"type":"point","padding":0.5,"domain":["Low stromal score","High stromal score"]},"axis":{"title":null,"labelExpr":"[replace(datum.label,' score',''),'score']","labelAngle":0,"labelFontSize":13.5,"labelColor":"#222222","labelLineHeight":15,"domainColor":"#222222","tickColor":"#222222","domainWidth":1.5,"tickSize":5,"labelPadding":2}},
     "y":{"field":"min","type":"quantitative","scale":{"domain":[0,0.615],"nice":false,"zero":false},"axis":{"values":[0,0.2,0.4,0.6],"labelExpr":"datum.value==0?'0':format(datum.value,'.1f')","title":["DNA methylation (β value)","Upregulated genes"],"titleFontSize":12.5,"titleFontWeight":"normal","titleColor":"#222222","titleLineHeight":15,"titlePadding":8,"labelFontSize":14,"labelColor":"#222222","grid":false,"domainColor":"#222222","tickColor":"#222222","domainWidth":1.5,"tickSize":5,"labelPadding":4}},
     "y2":{"field":"max"},
     "stroke":{"condition":{"test":"datum.grp=='High stromal score'","value":"#1f3fe0"},"value":"#111111"}}},
   {"data":{"name":"box"},"mark":{"type":"tick","size":42,"thickness":2.5},"encoding":{"x":{"field":"grp","type":"nominal"},"y":{"field":"min","type":"quantitative"},"color":{"condition":{"test":"datum.grp=='High stromal score'","value":"#1f3fe0"},"value":"#111111"}}},
   {"data":{"name":"box"},"mark":{"type":"tick","size":42,"thickness":2.5},"encoding":{"x":{"field":"grp","type":"nominal"},"y":{"field":"max","type":"quantitative"},"color":{"condition":{"test":"datum.grp=='High stromal score'","value":"#1f3fe0"},"value":"#111111"}}},
   {"data":{"name":"box"},"mark":{"type":"bar","width":78,"fill":"white","strokeWidth":2.5},"encoding":{"x":{"field":"grp","type":"nominal"},"y":{"field":"q1","type":"quantitative"},"y2":{"field":"q3"},"stroke":{"condition":{"test":"datum.grp=='High stromal score'","value":"#1f3fe0"},"value":"#111111"}}},
   {"data":{"name":"box"},"mark":{"type":"tick","size":78,"thickness":2},"encoding":{"x":{"field":"grp","type":"nominal"},"y":{"field":"med","type":"quantitative"},"color":{"condition":{"test":"datum.grp=='High stromal score'","value":"#1f3fe0"},"value":"#111111"}}},
   {"data":{"values":[{}]},"mark":{"type":"rule","color":"#222222","strokeWidth":1.3,"xOffset":-17,"x2Offset":13},"encoding":{"x":{"datum":"Low stromal score"},"x2":{"datum":"High stromal score"},"y":{"datum":0.624}}},
   {"data":{"values":[{"t":"NS"}]},"mark":{"type":"text","fontSize":13,"baseline":"middle","color":"#222222","dx":59},"encoding":{"x":{"datum":"Low stromal score"},"y":{"datum":0.662},"text":{"field":"t"}}}
  ]}
]}
]}
]}
